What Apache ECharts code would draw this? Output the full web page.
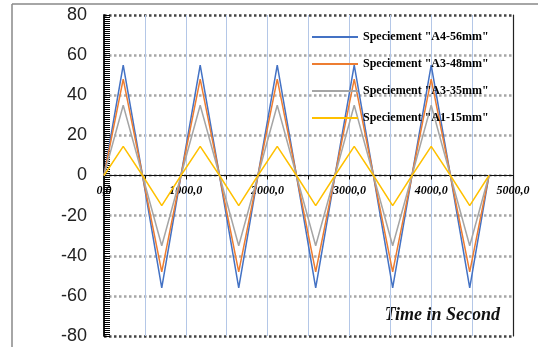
<!DOCTYPE html>
<html><head><meta charset="utf-8">
<script src="https://cdn.jsdelivr.net/npm/echarts@6/dist/echarts.min.js"></script>
<style>html,body{margin:0;padding:0;background:#fff}#c{width:538px;height:347px}</style>
</head><body><div id="c"></div>
<script>
var times = [0, 235, 471, 706, 941, 1176, 1412, 1647, 1882, 2118, 2353, 2588, 2824, 3059, 3294, 3529, 3765, 4000, 4235, 4471, 4706];
var a4_56 = [0, 55, 0, -56, 0, 55, 0, -56, 0, 55, 0, -56, 0, 55, 0, -56, 0, 55, 0, -56, 0];
var a3_48 = [0, 48, 0, -48, 0, 48, 0, -48, 0, 48, 0, -48, 0, 48, 0, -48, 0, 48, 0, -48, 0];
var a3_35 = [0, 35, 0, -35, 0, 35, 0, -35, 0, 35, 0, -35, 0, 35, 0, -35, 0, 35, 0, -35, 0];
var a1_15 = [0, 14.5, 0, -15, 0, 14.5, 0, -15, 0, 14.5, 0, -15, 0, 14.5, 0, -15, 0, 14.5, 0, -15, 0];
var seriesNames = ['Speciement "A4-56mm"', 'Speciement "A3-48mm"', 'Speciement "A3-35mm"', 'Speciement "A1-15mm"'];
var seriesColors = ['#4472C4', '#ED7D31', '#A5A5A5', '#FFC000'];
var seriesValues = [a4_56, a3_48, a3_35, a1_15];

function pairs(v){ return times.map(function(t,i){ return [t, v[i]]; }); }

var chart = echarts.init(document.getElementById('c'));
var gridLineColors = ['#444','#a6a6a6','#a6a6a6','#a6a6a6','#a6a6a6','#a6a6a6','#a6a6a6','#a6a6a6','#444'];
var gridH = 347 - 15 - 11;
chart.setOption({
  animation: false,
  backgroundColor: '#fff',
  grid: { left: 104, top: 15, right: 25, bottom: 11 },
  legend: {
    orient: 'vertical', left: 307, top: 25, itemWidth: 46, itemHeight: 2, itemGap: 13, icon: 'rect',
    textStyle: { fontFamily: 'Liberation Serif', fontWeight: 'bold', fontSize: 12, lineHeight: 14, color: '#000' },
    data: seriesNames
  },
  xAxis: {
    type: 'value', min: 0, max: 5000, interval: 500, position: 'bottom', offset: -gridH / 2,
    axisLine: { show: true, onZero: false, lineStyle: { color: '#111', width: 1 } },
    axisTick: { show: true, length: 4, lineStyle: { color: '#111' } },
    axisLabel: {
      margin: 9, color: '#000', fontFamily: 'Liberation Serif', fontWeight: 'bold', fontStyle: 'italic', fontSize: 12,
      formatter: function(v){ return v % 1000 === 0 ? v.toFixed(1).replace('.', ',') : ''; }
    },
    splitLine: { show: true, lineStyle: { color: '#B4C7E7', width: 1 } }
  },
  yAxis: [{
    type: 'value', min: -80, max: 80, interval: 20,
    axisLine: { show: true, onZero: false, lineStyle: { color: '#111', width: 1.5 } },
    axisTick: { show: true, inside: true, length: 6, lineStyle: { color: '#000' } },
    axisLabel: { margin: 17, color: '#222', fontFamily: 'Liberation Sans', fontSize: 18 },
    splitLine: { show: true, lineStyle: { color: gridLineColors, width: 2.5, type: [2.5, 2.5] } }
  }, {
    type: 'value', min: -80, max: 80, interval: 20, position: 'right',
    axisLine: { show: true, onZero: false, lineStyle: { color: '#222', width: 1.2 } },
    axisTick: { show: false }, axisLabel: { show: false }, splitLine: { show: false }
  }, {
    type: 'value', min: -80, max: 80, interval: 1, position: 'left',
    axisLine: { show: true, onZero: false, lineStyle: { color: '#111', width: 1.5 } },
    axisTick: { show: true, inside: true, length: 6, lineStyle: { color: '#000', width: 1 } },
    axisLabel: { show: false }, splitLine: { show: false }
  }],
  series: seriesNames.map(function(n, i){
    return { name: n, type: 'line', symbol: 'none', data: pairs(seriesValues[i]),
      color: seriesColors[i], lineStyle: { color: seriesColors[i], width: 1.5 } };
  }),
  graphic: [
    { type: 'line', shape: { x1: 12, y1: 4, x2: 538, y2: 4 }, style: { stroke: '#888', lineWidth: 1.5 } },
    { type: 'line', shape: { x1: 12, y1: 4, x2: 12, y2: 347 }, style: { stroke: '#888', lineWidth: 1.5 } },
    { type: 'text', right: 38, top: 306, style: { text: 'Time in Second', fill: '#111',
      font: 'italic bold 18px "Liberation Serif"' } }
  ]
});
</script></body></html>
